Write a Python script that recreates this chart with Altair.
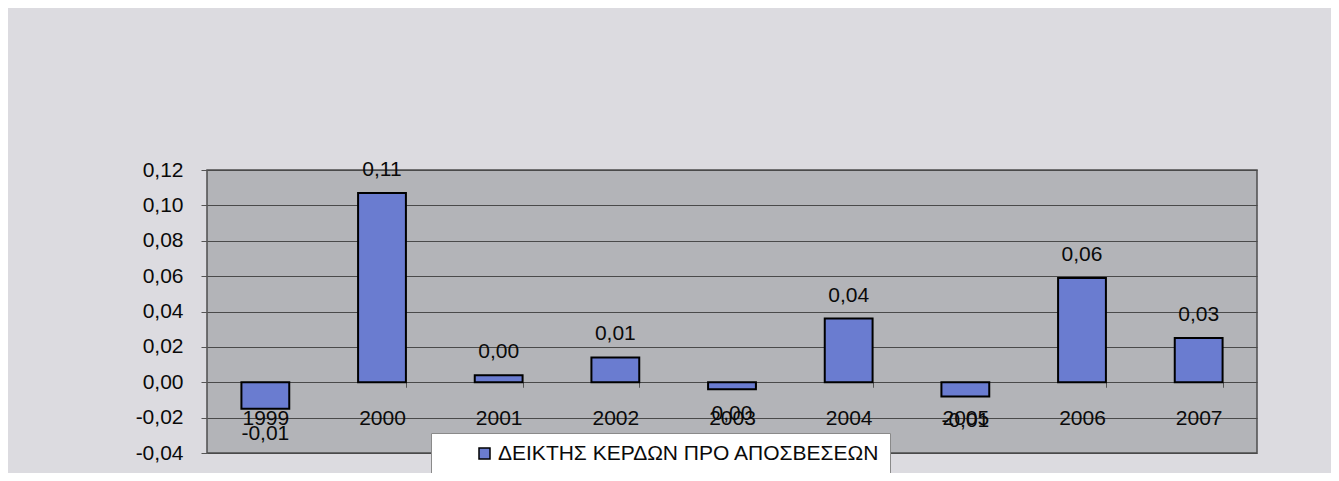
import altair as alt
import pandas as pd

# ---- data ----
years = ["1999", "2000", "2001", "2002", "2003", "2004", "2005", "2006", "2007"]
values = [-0.015, 0.107, 0.004, 0.014, -0.004, 0.036, -0.008, 0.059, 0.025]
value_labels = ["-0,01", "0,11", "0,00", "0,01", "0,00", "0,04", "-0,01", "0,06", "0,03"]
series_name = "ΔΕΙΚΤΗΣ ΚΕΡΔΩΝ ΠΡΟ ΑΠΟΣΒΕΣΕΩΝ"
y_ticks = [-0.04, -0.02, 0.0, 0.02, 0.04, 0.06, 0.08, 0.10, 0.12]
y_domain = [-0.04, 0.12]

df = pd.DataFrame({
    "year": years,
    "value": values,
    "label": value_labels,
    "series": [series_name] * len(years),
})

FONT = "Liberation Sans"
FS = 21
TXT = "#0a0a0a"
W, H = 1050, 283
zero_offset = -H * (0 - y_domain[0]) / (y_domain[1] - y_domain[0])

x_enc = alt.X(
    "year:N", sort=years,
    scale=alt.Scale(paddingInner=0.59, paddingOuter=0.295),
    axis=alt.Axis(
        title=None, orient="bottom", offset=zero_offset, domain=False,
        ticks=True, tickBand="extent", tickSize=5, tickColor="#555555", tickWidth=1,
        labelAngle=0, labelFontSize=FS, labelFont=FONT, labelColor=TXT,
        labelBaseline="middle", labelPadding=31, grid=False, labelOverlap=False,
    ),
)
y_enc = alt.Y(
    "value:Q",
    scale=alt.Scale(domain=y_domain, nice=False, zero=False),
    axis=alt.Axis(
        title=None, values=y_ticks, tickCount=len(y_ticks), labelOverlap=False,
        labelExpr="replace(replace(format(datum.value, '.2f'), '.', ','), '\u2212', '-')",
        grid=True, gridColor="#4a4a4a", gridWidth=1, domain=False,
        tickSize=6, tickColor="#555555", labelFontSize=FS, labelFont=FONT,
        labelColor=TXT, labelPadding=18, labelFlush=False,
    ),
)

base = alt.Chart(df)

bars = base.mark_bar(stroke="black", strokeWidth=2).encode(
    x=x_enc,
    y=y_enc,
    y2=alt.datum(0),
    color=alt.Color(
        "series:N",
        scale=alt.Scale(range=["#6a7cd0"]),
        legend=alt.Legend(
            title=None, orient="none", legendX=224, legendY=263,
            fillColor="white", strokeColor="#8a8a8a", padding=10,
            symbolType="square", symbolSize=121, symbolStrokeColor="black",
            symbolStrokeWidth=1.5, symbolOffset=33, labelOffset=3,
            labelFontSize=FS, labelFont=FONT, labelColor=TXT,
            labelLimit=900,
            labelExpr="datum.label + '\u00a0\u00a0\u00a0\u00a0\u00a0'",
        ),
    ),
)

pos_text = base.transform_filter("datum.value >= 0").mark_text(
    dy=-23, fontSize=FS, font=FONT, color=TXT, baseline="middle"
).encode(x=x_enc, y=y_enc, text="label:N")

neg_text = base.transform_filter("datum.value < 0").mark_text(
    dy=25, fontSize=FS, font=FONT, color=TXT, baseline="middle"
).encode(x=x_enc, y=y_enc, text="label:N")

chart = alt.layer(bars, pos_text, neg_text).properties(
    width=W, height=H,
    background="#dcdbe0",
    padding={"left": 199, "top": 162, "right": 74, "bottom": 20},
    autosize=alt.AutoSizeParams(type="none"),
).configure_view(
    fill="#b3b4b8", stroke="#4d4d4d", strokeWidth=1.5
)

chart.save("out.html", embed_options={"renderer": "svg", "actions": False})
